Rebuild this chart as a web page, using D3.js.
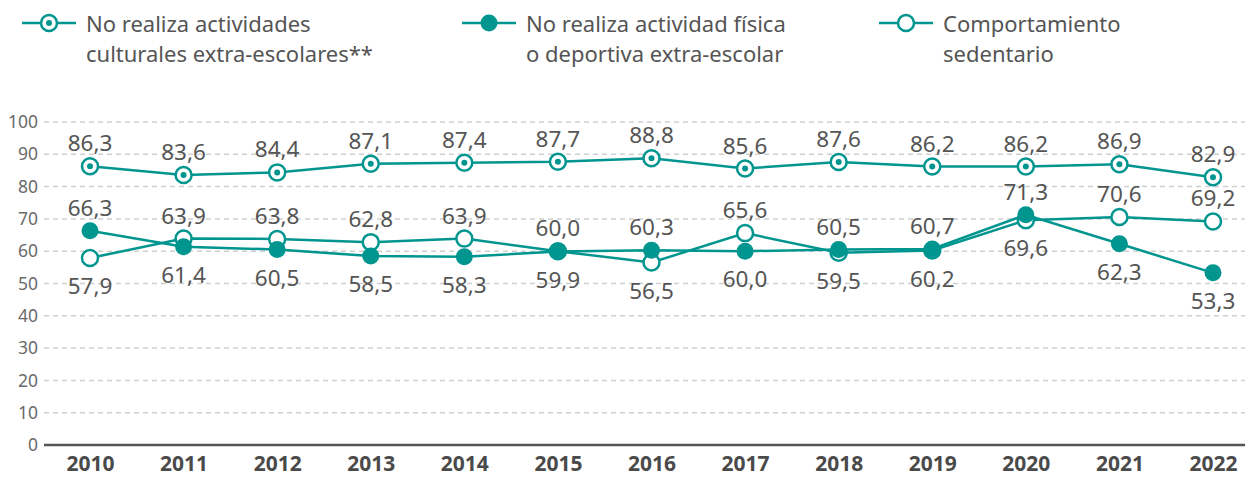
<!DOCTYPE html>
<html><head><meta charset="utf-8">
<script src="https://cdn.jsdelivr.net/npm/d3@7/dist/d3.min.js"></script>
<style>body{margin:0;background:#fff}svg{display:block}</style>
</head><body><svg id="c" width="1250" height="477"></svg>
<script>
const years = ["2010","2011","2012","2013","2014","2015","2016","2017","2018","2019","2020","2021","2022"];
const cultural = [86.3,83.6,84.4,87.1,87.4,87.7,88.8,85.6,87.6,86.2,86.2,86.9,82.9];
const physical = [66.3,61.4,60.5,58.5,58.3,59.9,60.3,60.0,60.5,60.7,71.3,62.3,53.3];
const sedentary = [57.9,63.9,63.8,62.8,63.9,60.0,56.5,65.6,59.5,60.2,69.6,70.6,69.2];
const yTicks = [0,10,20,30,40,50,60,70,80,90,100];
const legendLabels = [
  ["No realiza actividades","culturales extra-escolares**"],
  ["No realiza actividad física","o deportiva extra-escolar"],
  ["Comportamiento","sedentario"]
];

const teal = "#00958f", txt = "#555555", font = "'Noto Sans', 'Open Sans', sans-serif";
const svg = d3.select("#c");
const x = d3.scalePoint().domain(years).range([90,1213]);
const y = d3.scaleLinear().domain([0,100]).range([445,122]);

// gridlines
const yAxis = d3.axisLeft(y).tickValues(yTicks).tickSize(0).tickPadding(6);
const gy = svg.append("g").attr("transform","translate(44,0)").call(yAxis);
gy.select(".domain").remove();
gy.selectAll("text").attr("font-family",font).attr("font-size",17.5).attr("fill","#6b6b6b");
svg.append("g").selectAll("line").data(yTicks.filter(d=>d>0)).join("line")
  .attr("x1",44).attr("x2",1245).attr("y1",d=>y(d)).attr("y2",d=>y(d))
  .attr("stroke","#cfcfcf").attr("stroke-width",1.5).attr("stroke-dasharray","5,4");

// x axis
const xAxis = d3.axisBottom(x).tickSize(0).tickPadding(11);
const gx = svg.append("g").attr("transform",`translate(0,${y(0)})`).call(xAxis);
gx.select(".domain").remove();
svg.append("line").attr("x1",44).attr("x2",1245).attr("y1",y(0)).attr("y2",y(0))
  .attr("stroke","#555").attr("stroke-width",2.5);
gx.selectAll("text").attr("font-family",font).attr("font-size",21).attr("font-weight","bold").attr("fill","#4a4a4a");

const line = d3.line().x((d,i)=>x(years[i])).y(d=>y(d));

function drawSeries(vals, type){
  svg.append("path").datum(vals).attr("d",line).attr("fill","none").attr("stroke",teal).attr("stroke-width",2.5);
  const g = svg.append("g");
  vals.forEach((v,i)=>drawMarker(g, x(years[i]), y(v), type));
}
function drawMarker(g, cx, cy, type){
  if(type==="filled"){
    g.append("circle").attr("cx",cx).attr("cy",cy).attr("r",8.5).attr("fill",teal);
  } else {
    g.append("circle").attr("cx",cx).attr("cy",cy).attr("r",8).attr("fill","#fff").attr("stroke",teal).attr("stroke-width",2.5);
    if(type==="dot") g.append("circle").attr("cx",cx).attr("cy",cy).attr("r",3).attr("fill",teal);
  }
}
drawSeries(cultural,"dot");
drawSeries(sedentary,"open");
drawSeries(physical,"filled");

// data labels
const fmt = v => v.toFixed(1).replace(".",",");
const lab = svg.append("g").attr("font-family",font).attr("font-size",22.5).attr("fill",txt).attr("text-anchor","middle");
cultural.forEach((v,i)=>lab.append("text").attr("x",x(years[i])).attr("y",y(v)-15).text(fmt(v)));
years.forEach((yr,i)=>{
  const a = physical[i], b = sedentary[i];
  const hi = a>=b ? a : b, lo = a>=b ? b : a;
  lab.append("text").attr("x",x(yr)).attr("y",y(hi)-15).text(fmt(hi));
  lab.append("text").attr("x",x(yr)).attr("y",y(lo)+36).text(fmt(lo));
});

// legend
const legX = [22, 462, 879];
const legTypes = ["dot","filled","open"];
const lg = svg.append("g");
legendLabels.forEach((lines,k)=>{
  const x0 = legX[k];
  lg.append("line").attr("x1",x0).attr("x2",x0+54).attr("y1",23).attr("y2",23).attr("stroke",teal).attr("stroke-width",2.5);
  drawMarker(lg, x0+27, 23, legTypes[k]);
  lines.forEach((t,j)=>lg.append("text").attr("x",x0+64).attr("y",32+j*30)
    .attr("font-family",font).attr("font-size",22).attr("fill",txt).text(t));
});
</script></body></html>
